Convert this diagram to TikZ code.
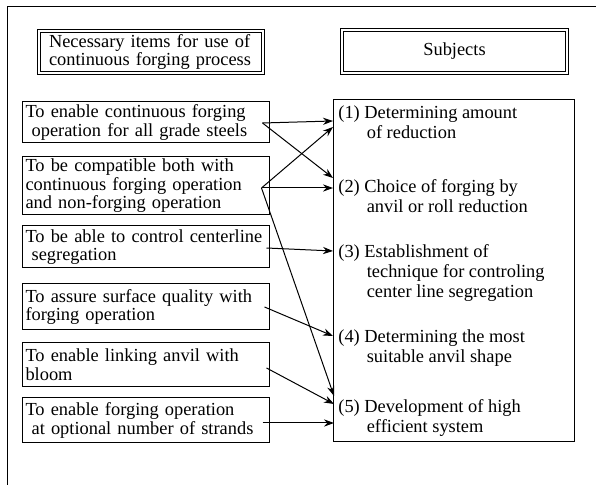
\documentclass[tikz,border=0pt]{standalone}
\usepackage{fontspec}
\setmainfont{Liberation Serif}
\usetikzlibrary{arrows.meta}
\newcommand{\subjindent}{\hspace*{14.2pt}}

\begin{document}
\begin{tikzpicture}[x=0.5pt,y=-0.5pt,
    >={Stealth[length=5pt,width=3.6pt]},
    headbox/.style={draw,double,double distance=0.7pt,line width=0.45pt,
        inner sep=0pt,font=\fontsize{9.2}{9.3}\selectfont},
    itembox/.style={draw,line width=0.5pt,text width=120.5pt,inner xsep=1.5pt,
        inner ysep=0pt,align=left,font=\fontsize{9.2}{9.3}\selectfont},
    subject/.style={anchor=base west,inner sep=0pt,align=left,
        font=\fontsize{9.2}{10}\selectfont},
    link/.style={->,line width=0.5pt}]
\useasboundingbox (0,0) rectangle (596,485);
\draw[line width=0.5pt] (596,7) -- (7,7) -- (7,485);

\node[headbox,minimum width=112pt,minimum height=21pt,text width=102pt,
    align=left] (h0) at (151,52) {Necessary items for use of\\continuous forging process};
\node[headbox,minimum width=112.5pt,minimum height=21.5pt] (h1) at (454.5,51.5) {Subjects};

\node[itembox,minimum height=20.5pt] (a1) at (146,122.5)
    {To enable continuous forging\\\ operation for all grade steels};
\node[itembox,minimum height=29pt] (a2) at (146,186)
    {To be compatible both with\\continuous forging operation\\and non-forging operation};
\node[itembox,minimum height=21pt] (a3) at (146,247)
    {To be able to control centerline\\\ segregation};
\node[itembox,minimum height=23pt] (a4) at (146,307)
    {To assure surface quality with\\forging operation};
\node[itembox,minimum height=22pt] (a5) at (146,365)
    {To enable linking anvil with\\bloom};
\node[itembox,minimum height=22.5pt] (a6) at (146,420.5)
    {To enable forging operation\\\ at optional number of strands};

\node[draw,line width=0.5pt,minimum width=120.5pt,minimum height=171pt,
    inner sep=0pt] (subjbox) at (453.5,271) {};
\node[subject] (s1) at (338,139) {(1) Determining amount\\\subjindent of reduction};
\node[subject] (s2) at (338,213) {(2) Choice of forging by\\\subjindent anvil or roll reduction};
\node[subject] (s3) at (338,298) {(3) Establishment of\\\subjindent technique for controling\\\subjindent center line segregation};
\node[subject] (s4) at (338,363) {(4) Determining the most\\\subjindent suitable anvil shape};
\node[subject] (s5) at (338,433) {(5) Development of high\\\subjindent efficient system};

\coordinate (o1) at ([xshift=-3.75pt,yshift=-0.25pt]a1.east);
\coordinate (o2) at ([xshift=-4.25pt,yshift=-1pt]a2.east);
\coordinate (o3) at ([xshift=-1.75pt,yshift=-0.5pt]a3.east);
\coordinate (o4) at ([xshift=-2.75pt]a4.east);
\coordinate (o5) at ([xshift=-1.75pt,yshift=-1.5pt]a5.east);
\coordinate (o6) at ([xshift=-3.75pt,yshift=-1.25pt]a6.east);
\coordinate (t1a) at (333,121);
\coordinate (t1b) at (333,127);
\coordinate (t2a) at (333,178);
\coordinate (t2b) at (333,188);
\coordinate (t3) at (333,251);
\coordinate (t4) at (333,336);
\coordinate (t5a) at (334,396);
\coordinate (t5b) at (334,404);
\coordinate (t5c) at (334,423);

\draw[link] (o1) -- (t1a);
\draw[link] (o1) -- (t2a);
\draw[link] (o2) -- (t1b);
\draw[link] (o2) -- (t2b);
\draw[link] (o2) -- (t5a);
\draw[link] (o3) -- (t3);
\draw[link] (o4) -- (t4);
\draw[link] (o5) -- (t5b);
\draw[link] (o6) -- (t5c);
\end{tikzpicture}
\end{document}
